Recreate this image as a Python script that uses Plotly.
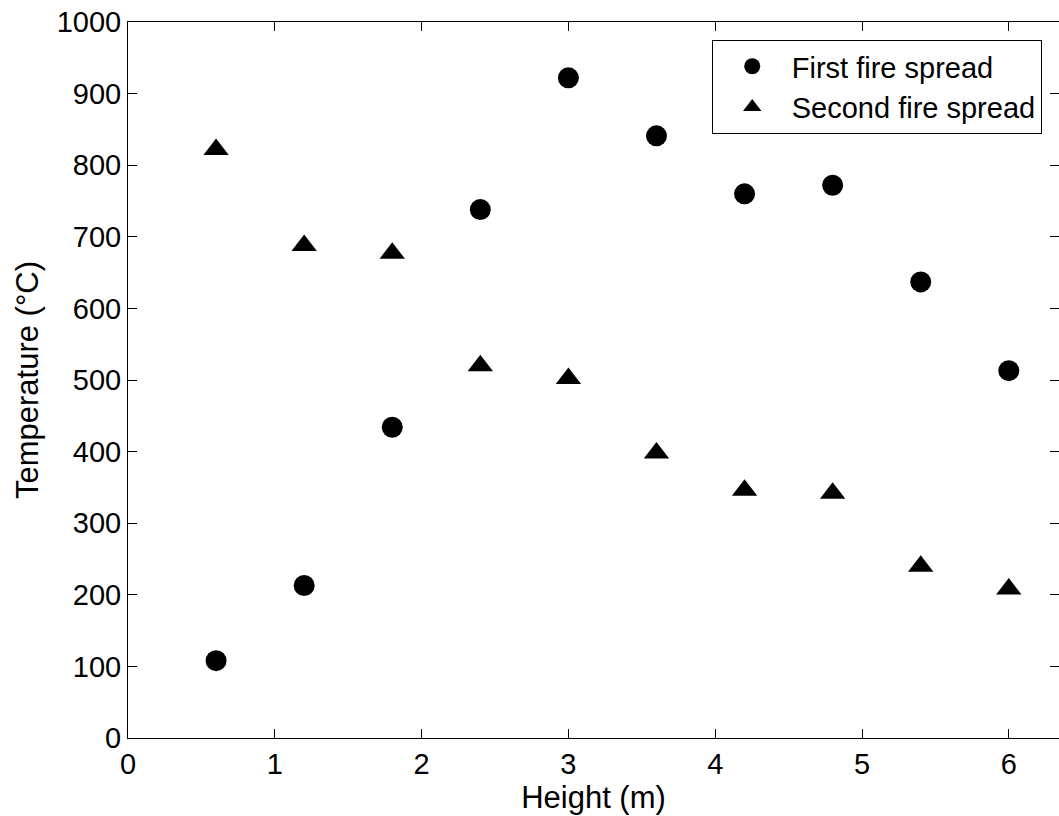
import plotly.graph_objects as go

heights = [0.6, 1.2, 1.8, 2.4, 3.0, 3.6, 4.2, 4.8, 5.4, 6.0]
first_fire = [108, 213, 434, 738, 922, 841, 760, 772, 637, 513]
second_fire = [822, 688, 677, 520, 502, 398, 346, 342, 240, 208]
x_ticks = [0, 1, 2, 3, 4, 5, 6]
y_ticks = [0, 100, 200, 300, 400, 500, 600, 700, 800, 900, 1000]

FONT = "Liberation Sans, Arial, sans-serif"

fig = go.Figure()
fig.add_trace(go.Scatter(x=heights, y=first_fire, mode="markers", name="First fire spread",
                         marker=dict(symbol="circle", size=21, color="black")))
fig.add_trace(go.Scatter(x=heights, y=second_fire, mode="markers", name="Second fire spread",
                         marker=dict(symbol="triangle-up", size=22, color="black")))
fig.add_trace(go.Scatter(x=[], y=[], yaxis="y2", showlegend=False, hoverinfo="skip"))

fig.update_layout(
    width=1059, height=816,
    margin=dict(l=128, r=0, t=22, b=78),
    paper_bgcolor="white", plot_bgcolor="white",
    font=dict(family=FONT, size=29, color="black"),
    showlegend=True,
    legend=dict(x=0.627, y=0.975, xanchor="left", yanchor="top",
                bgcolor="white", bordercolor="black", borderwidth=1,
                itemwidth=69, font=dict(size=29)),
    xaxis=dict(range=[0, 6.342], tickvals=x_ticks, ticks="inside", ticklen=9,
               tickcolor="black", showline=True, linecolor="black", linewidth=1,
               mirror="ticks", showgrid=False, zeroline=False,
               title=dict(text="Height (m)", font=dict(size=31), standoff=6)),
    yaxis=dict(range=[0, 1000], tickvals=y_ticks, ticks="inside", ticklen=9,
               tickcolor="black", showline=True, linecolor="black", linewidth=1,
               showgrid=False, zeroline=False,
               title=dict(text="Temperature (°C)", font=dict(size=31), standoff=8)),
    yaxis2=dict(range=[0, 1000], tickvals=y_ticks, ticks="inside", ticklen=9,
                tickcolor="black", showline=False, showticklabels=False,
                overlaying="y", side="right", showgrid=False, zeroline=False),
)

fig.write_html("out.html")
